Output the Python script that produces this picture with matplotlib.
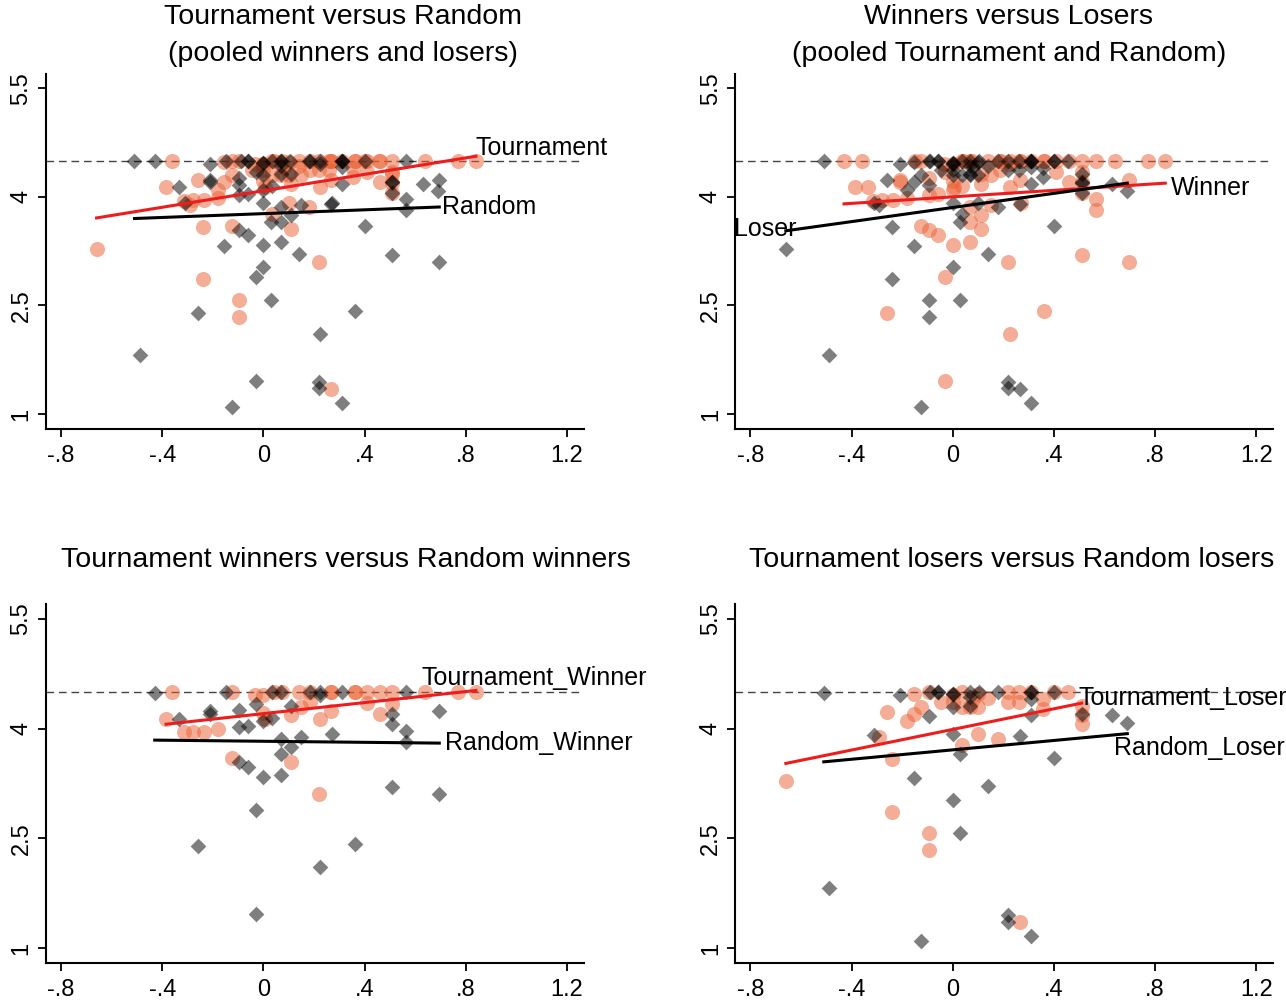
import numpy as np
import matplotlib.pyplot as plt

plt.rcParams['font.family'] = ['Liberation Sans', 'DejaVu Sans']

# tournament winners
tw_x = [-0.385, -0.36, -0.315, -0.28, -0.235, -0.18, -0.125, -0.125, -0.035, 0.0, 0.0, 0.005,
        0.04, 0.075, 0.11, 0.11, 0.14, 0.15, 0.185, 0.185, 0.225, 0.22, 0.265, 0.265, 0.265,
        0.36, 0.36, 0.41, 0.41, 0.46, 0.46, 0.51, 0.51, 0.64, 0.77, 0.84]
tw_y = [4.13, 4.50, 3.95, 3.96, 3.96, 3.99, 4.50, 3.60, 4.46, 4.46, 4.22, 4.13,
        4.50, 4.50, 4.18, 3.55, 4.50, 4.30, 4.37, 4.50, 4.13, 3.10, 4.50, 4.24, 4.50,
        4.50, 4.50, 4.50, 4.35, 4.50, 4.20, 4.50, 4.34, 4.50, 4.50, 4.50]

# random winners
rw_x = [-0.43, -0.335, -0.26, -0.21, -0.21, -0.15, -0.095, -0.095, -0.095, -0.06, -0.06, -0.03,
        -0.03, -0.03, 0.0, 0.0, 0.035, 0.035, 0.07, 0.07, 0.07, 0.07, 0.11, 0.11, 0.15, 0.185,
        0.225, 0.225, 0.225, 0.27, 0.31, 0.36, 0.51, 0.51, 0.51, 0.565, 0.565, 0.565, 0.695, 0.695]
rw_y = [4.49, 4.13, 2.39, 4.24, 4.20, 4.50, 4.26, 4.02, 3.54, 4.04, 3.47, 4.34,
        2.89, 1.46, 4.10, 3.34, 4.50, 4.15, 4.50, 3.86, 3.65, 3.37, 4.31, 3.75, 3.89, 4.50,
        4.50, 4.46, 2.11, 3.92, 4.50, 2.42, 4.20, 4.06, 3.20, 4.50, 3.97, 3.82, 4.24, 3.10]

# tournament losers
tl_x = [-0.66, -0.29, -0.26, -0.24, -0.24, -0.18, -0.155, -0.155, -0.125, -0.095, -0.095, -0.095,
        -0.045, 0.0, 0.0, 0.035, 0.035, 0.035, 0.07, 0.08, 0.10, 0.10, 0.10, 0.14, 0.18, 0.22,
        0.22, 0.26, 0.26, 0.265, 0.31, 0.355, 0.355, 0.40, 0.455, 0.51, 0.51, 0.51]
tl_y = [3.28, 3.89, 4.23, 3.58, 2.86, 4.10, 4.20, 4.48, 4.30, 4.50, 2.57, 2.34,
        4.37, 4.46, 4.37, 4.50, 4.30, 3.77, 4.30, 4.41, 4.48, 4.30, 3.92, 4.42, 3.86, 4.50,
        4.37, 4.50, 4.37, 1.35, 4.50, 4.40, 4.27, 4.50, 4.50, 4.31, 4.19, 4.06]

# random losers
rl_x = [-0.51, -0.49, -0.31, -0.21, -0.155, -0.125, -0.095, -0.09, -0.06, -0.06, 0.0, 0.0, 0.0,
        0.0, 0.0, 0.03, 0.03, 0.07, 0.07, 0.07, 0.105, 0.14, 0.18, 0.22, 0.22, 0.265, 0.31,
        0.31, 0.31, 0.31, 0.31, 0.40, 0.40, 0.51, 0.63, 0.69]
rl_y = [4.49, 1.82, 3.91, 4.46, 3.32, 1.10, 4.17, 4.50, 4.50, 4.50, 4.47, 4.47, 4.30,
        3.92, 3.03, 3.65, 2.57, 4.50, 4.43, 4.31, 4.50, 3.21, 4.50, 1.45, 1.36, 3.90, 4.50,
        4.50, 4.41, 4.18, 1.16, 4.50, 3.60, 4.20, 4.18, 4.08]

max_score = 4.5
xticks = [-0.8, -0.4, 0, 0.4, 0.8, 1.2]
xtick_labels = ['-.8', '-.4', '0', '.4', '.8', '1.2']
yticks = [1, 2.5, 4, 5.5]
ytick_labels = ['1', '2.5', '4', '5.5']

W, H = 1286, 1002
fig = plt.figure(figsize=(W / 100, H / 100), dpi=100)

orange = '#EB5F32'
px = 0.72  # points per pixel


def fit_line(x, y):
    b, a = np.polyfit(x, y, 1)
    xs = np.array([min(x), max(x)])
    return xs, a + b * xs


panels = [
    dict(rect=[0.03554, 0.57156, 0.41835, 0.35479],
         titles=[('Tournament versus Random', 343, 17), ('(pooled winners and losers)', 343, 54)],
         ox=tw_x + tl_x, oy=tw_y + tl_y, gx=rw_x + rl_x, gy=rw_y + rl_y,
         red=('Tournament', 1, (0, 8), 'left'), black=('Random', 1, (3, 0), 'left')),
    dict(rect=[0.57154, 0.57156, 0.41835, 0.35479],
         titles=[('Winners versus Losers', 1009, 17), ('(pooled Tournament and Random)', 1009, 54)],
         ox=tw_x + rw_x, oy=tw_y + rw_y, gx=tl_x + rl_x, gy=tl_y + rl_y,
         red=('Winner', 1, (6, -5), 'left'), black=('Loser', 0, (11, 2), 'right')),
    dict(rect=[0.03554, 0.03862, 0.41835, 0.35828],
         titles=[('Tournament winners versus Random winners', 346, 560)],
         ox=tw_x, oy=tw_y, gx=rw_x, gy=rw_y,
         red=('Tournament_Winner', 1, (-54, 12), 'left'), black=('Random_Winner', 1, (6, 0), 'left')),
    dict(rect=[0.57154, 0.03862, 0.41835, 0.35828],
         titles=[('Tournament losers versus Random losers', 1012, 560)],
         ox=tl_x, oy=tl_y, gx=rl_x, gy=rl_y,
         red=('Tournament_Loser', 1, (-3, 5), 'left'), black=('Random_Loser', 1, (-13, -14), 'left')),
]

for p in panels:
    ax = fig.add_axes(p['rect'])
    ax.scatter(p['ox'], p['oy'], s=118, marker='o', color=orange, alpha=0.5, linewidths=0, zorder=2)
    ax.scatter(p['gx'], p['gy'], s=64, marker='D', color='black', alpha=0.5, linewidths=0, zorder=3)
    ax.axhline(max_score, color='#444444', lw=1.0, dashes=(5.5, 3.5), zorder=1)

    rx, ry = fit_line(p['ox'], p['oy'])
    bx, by = fit_line(p['gx'], p['gy'])
    ax.plot(rx, ry, color='#EE1C1C', lw=2.2, zorder=4)
    ax.plot(bx, by, color='black', lw=2.2, zorder=4)

    for (label, idx, off, ha), lx, ly in [(p['red'], rx, ry), (p['black'], bx, by)]:
        ax.annotate(label, xy=(lx[idx], ly[idx]), xytext=(off[0] * px, off[1] * px),
                    textcoords='offset points', ha=ha, va='center', fontsize=18, zorder=5)

    ax.set_xlim(-0.861, 1.266)
    ax.set_ylim(0.79, 5.7)
    ax.set_xticks(xticks)
    ax.set_xticklabels(xtick_labels)
    ax.set_yticks(yticks)
    ax.set_yticklabels(ytick_labels, rotation=90, va='center')
    ax.tick_params(axis='x', length=5.5, width=1.3, labelsize=17, pad=5.5)
    ax.tick_params(axis='y', length=5.5, width=1.3, labelsize=17, pad=4)
    for side in ['top', 'right']:
        ax.spines[side].set_visible(False)
    for side in ['left', 'bottom']:
        ax.spines[side].set_linewidth(1.5)
    ax.patch.set_alpha(0)

    for text, tx, ty in p['titles']:
        fig.text(tx / W, 1 - ty / H, text, ha='center', va='center', fontsize=20.5)

plt.savefig('out.png', dpi=100)
